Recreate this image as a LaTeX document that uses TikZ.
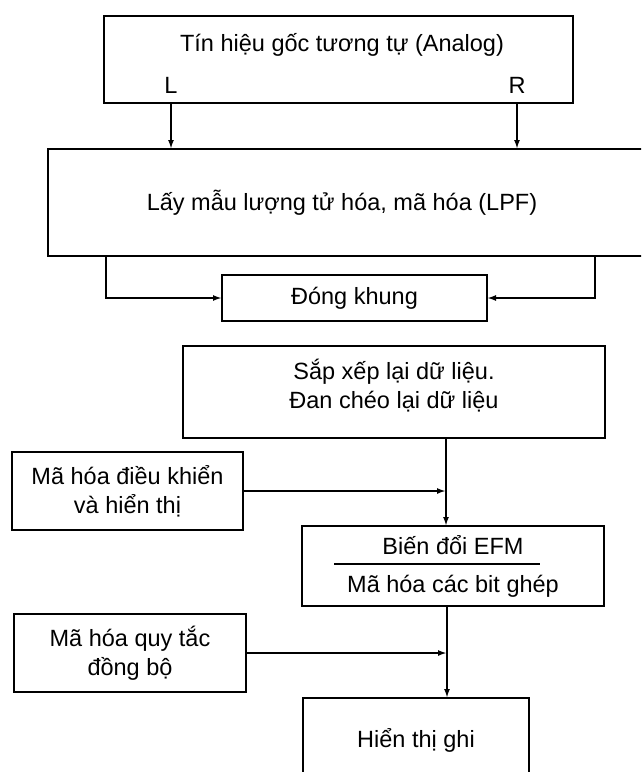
\documentclass[tikz,border=0pt]{standalone}
\usepackage{fontspec}
\setmainfont{Liberation Sans}
\usetikzlibrary{arrows.meta,calc}
\tikzset{%
  block/.style = {shape=rectangle, draw, line width=1.9pt,%
                  inner sep=0pt, outer sep=0pt, align=center},%
  flow/.style  = {line width=1.9pt, -{Latex[length=9pt,width=6pt]}},%
  wire/.style  = {line width=1.9pt}%
}
\begin{document}
\begin{tikzpicture}
[x=1pt,y=-1pt,every node/.style = {font=\fontsize{23.5}{29}\selectfont}]
	\useasboundingbox (0,0) rectangle (641,772);
	\clip (0,0) rectangle (641,772);
	% analog source with its two channels
	\node [block,minimum width=469pt,minimum height=87pt] (src) at (338.5,59.5) {};
	\node (title) at (342,45) {Tín hiệu gốc tương tự (Analog)};
	\node (L) at (171,85) {L};
	\node (R) at (517,85) {R};
	\node [block,minimum width=596pt,minimum height=107pt] (quant) at (346,202.5) {};
	\node (qtext) at (342,203) {Lấy mẫu lượng tử hóa, mã hóa (LPF)};
	\draw [flow] (L |- src.south) -- (L |- quant.north);
	\draw [flow] (R |- src.south) -- (R |- quant.north);
	% framing
	\node [block,minimum width=265pt,minimum height=46pt] (frame) at (354.5,298) {Đóng khung};
	\draw [flow] ([xshift=58pt]quant.south west) |- (frame.west);
	\draw [flow] ([xshift=-49pt]quant.south east) |- (frame.east);
	% data path
	\node [block,minimum width=422pt,minimum height=92pt] (inter) at (394,392) {};
	\node (itext) at (394,386) [align=center] {Sắp xếp lại dữ liệu.\\Đan chéo lại dữ liệu};
	\node [block,minimum width=231pt,minimum height=78pt] (ctrl) at (127.5,491)
		{Mã hóa điều khiển\\và hiển thị};
	\node [block,minimum width=302pt,minimum height=80pt] (efm) at (453,566)
		{Biến đổi EFM\\[9pt]Mã hóa các bit ghép};
	\draw [wire] ([xshift=32pt,yshift=2pt]efm.west) -- ++(206pt,0);
	\node [block,minimum width=232pt,minimum height=78pt] (sync) at (130,653)
		{Mã hóa quy tắc\\đồng bộ};
	\node [block,minimum width=226pt,minimum height=84pt] (rec) at (416,740) {Hiển thị ghi};
	\coordinate (busA) at (446,0);
	\coordinate (busB) at (447,0);
	\draw [flow] (inter.south -| busA) -- (efm.north -| busA);
	\draw [flow] (ctrl.east) -- (ctrl.east -| busA);
	\draw [flow] (efm.south -| busB) -- (rec.north -| busB);
	\draw [flow] (sync.east) -- (sync.east -| busB);
\end{tikzpicture}
\end{document}
